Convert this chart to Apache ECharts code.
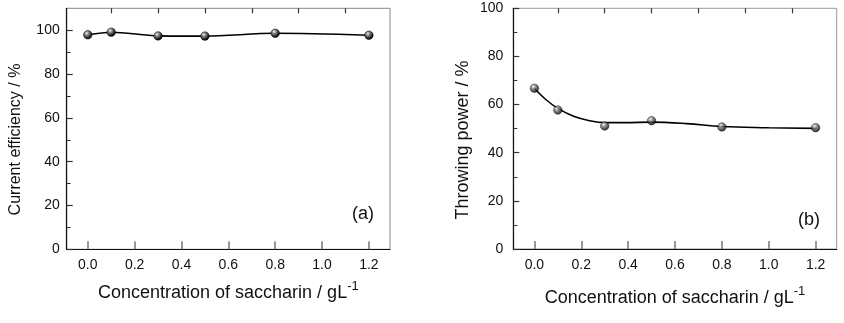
<!DOCTYPE html>
<html><head><meta charset="utf-8">
<script src="https://cdn.jsdelivr.net/npm/echarts@6/dist/echarts.min.js"></script>
<style>html,body{margin:0;padding:0;background:#fff}#c{width:844px;height:323px}</style>
</head><body><div id="c"></div>
<script>
const concentration = [0.0, 0.1, 0.3, 0.5, 0.8, 1.2];
const currentEfficiency = [97.9, 99.1, 97.4, 97.3, 98.6, 97.7];
const throwingPower = [66.8, 57.7, 51.1, 53.3, 50.7, 50.4];
// fitted curve of panel (b)
const fitX = [0.0, 0.05, 0.1, 0.17, 0.24, 0.3, 0.39, 0.5, 0.65, 0.8, 1.0, 1.2];
const fitY = [66.8, 62.0, 58.4, 55.0, 53.2, 52.5, 52.5, 52.7, 52.1, 50.9, 50.4, 50.1];
const xMajorTicks = [0.0, 0.2, 0.4, 0.6, 0.8, 1.0, 1.2];
const xMinorTicks = [0.1, 0.3, 0.5, 0.7, 0.9, 1.1];
const yMajorTicks = [0, 20, 40, 60, 80, 100];
const yMinorTicks = [10, 30, 50, 70, 90];
const xTitle = 'Concentration of saccharin / gL';
const yTitleA = 'Current efficiency / %';
const yTitleB = 'Throwing power / %';

const FONT = 'Liberation Sans, Arial, sans-serif';
const chart = echarts.init(document.getElementById('c'));
const ball = new echarts.graphic.RadialGradient(0.38, 0.32, 0.7, [
  {offset: 0, color: '#f4f4f4'}, {offset: 0.3, color: '#8a8a8a'}, {offset: 0.75, color: '#222'}, {offset: 1, color: '#000'}]);

function xAxes(gi, gap) {
  return [{
    type: 'value', gridIndex: gi, min: -0.09, max: 1.29,
    name: '{a|' + xTitle + '}{s|-1}', nameLocation: 'middle', nameGap: gap,
    nameTextStyle: {rich: {a: {fontSize: 18, fontFamily: FONT, color: '#111', lineHeight: 22, verticalAlign: 'bottom'},
                           s: {fontSize: 13, fontFamily: FONT, color: '#111', lineHeight: 22, verticalAlign: 'top'}}},
    axisLine: {show: true, onZero: false, lineStyle: {color: '#111', width: 1.2}},
    axisTick: {show: true, inside: true, length: 8, customValues: xMajorTicks, lineStyle: {color: '#777', width: 1.5}},
    axisLabel: {customValues: xMajorTicks, margin: 9, fontSize: 14, fontFamily: FONT, color: '#111',
                formatter: v => v.toFixed(1)},
    splitLine: {show: false}
  }, {
    type: 'value', gridIndex: gi, min: -0.09, max: 1.29,
    axisLine: {show: false, onZero: false},
    axisTick: {show: true, inside: true, length: 5, customValues: xMinorTicks, lineStyle: {color: '#333', width: 1.2}},
    axisLabel: {show: false}, splitLine: {show: false}
  }];
}
function yAxes(gi, max, lm) {
  return [{
    type: 'value', gridIndex: gi, min: 0, max: max, position: 'left',
    axisLine: {show: true, onZero: false, lineStyle: {color: '#111', width: 1.2}},
    axisTick: {show: true, inside: true, length: 6, customValues: yMajorTicks, lineStyle: {color: '#333', width: 1.2}},
    axisLabel: {customValues: yMajorTicks, margin: lm, fontSize: 14, fontFamily: FONT, color: '#111'},
    splitLine: {show: false}
  }, {
    type: 'value', gridIndex: gi, min: 0, max: max, position: 'left',
    axisLine: {show: false, onZero: false},
    axisTick: {show: true, inside: true, length: 4, customValues: yMinorTicks, lineStyle: {color: '#333', width: 1}},
    axisLabel: {show: false}, splitLine: {show: false}
  }];
}
const marker = {symbol: 'circle', symbolSize: 8.5, itemStyle: {color: ball, borderColor: '#000', borderWidth: 0.5}};
chart.setOption({
  animation: false,
  grid: [
    {left: 66.7, right: 454, top: 8.3, bottom: 73.7, show: true, borderColor: '#888', borderWidth: 1},
    {left: 513.3, right: 7.3, top: 8.3, bottom: 74, show: true, borderColor: '#999', borderWidth: 1}
  ],
  xAxis: [...xAxes(0, 31), ...xAxes(1, 36)],
  yAxis: [...yAxes(0, 110, 7), ...yAxes(1, 100, 10)],
  series: [
    Object.assign({type: 'line', xAxisIndex: 0, yAxisIndex: 0, smooth: 0.3,
      data: concentration.map((c, i) => [c, currentEfficiency[i]]),
      lineStyle: {color: '#000', width: 1.6}, z: 3}, marker),
    {type: 'line', xAxisIndex: 2, yAxisIndex: 2, smooth: 0.4, showSymbol: false, symbol: 'none',
      data: fitX.map((x, i) => [x, fitY[i]]), lineStyle: {color: '#000', width: 1.6}, z: 2},
    Object.assign({type: 'scatter', xAxisIndex: 2, yAxisIndex: 2,
      data: concentration.map((c, i) => [c, throwingPower[i]]), z: 3}, marker)
  ],
  graphic: [
    {type: 'text', x: 16, y: 139.5, rotation: Math.PI / 2,
     style: {text: yTitleA, fontSize: 16, fontFamily: FONT, fill: '#111', align: 'center', verticalAlign: 'middle'}},
    {type: 'text', x: 463, y: 140, rotation: Math.PI / 2,
     style: {text: yTitleB, fontSize: 18, fontFamily: FONT, fill: '#111', align: 'center', verticalAlign: 'middle'}},
    {type: 'text', left: 352, top: 205, style: {text: '(a)', fontSize: 18, fontFamily: FONT, fill: '#111'}},
    {type: 'text', left: 798, top: 211, style: {text: '(b)', fontSize: 18, fontFamily: FONT, fill: '#111'}}
  ]
});
</script></body></html>
